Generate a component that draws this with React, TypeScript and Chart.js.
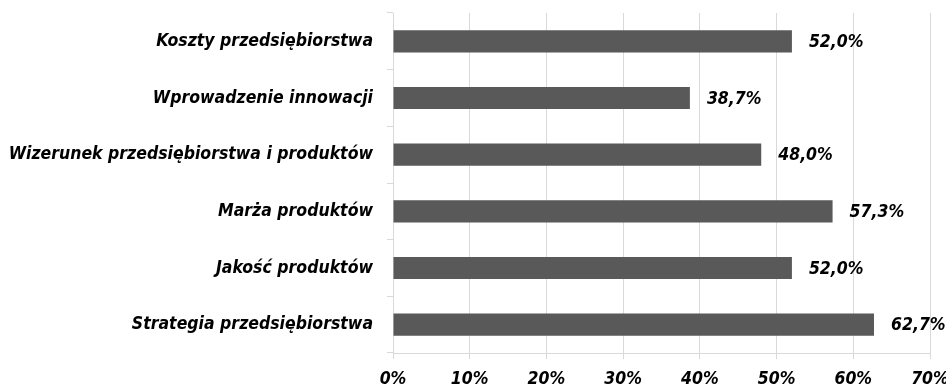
import React, { useEffect, useRef } from "react";
import { Chart, registerables } from "chart.js";

Chart.register(...registerables);

const categories = [
  "Koszty przedsiębiorstwa",
  "Wprowadzenie innowacji",
  "Wizerunek przedsiębiorstwa i produktów",
  "Marża produktów",
  "Jakość produktów",
  "Strategia przedsiębiorstwa",
];
const values = [52.0, 38.7, 48.0, 57.3, 52.0, 62.7];
const axisMax = 70;
const axisStep = 10;

const FONT_FAMILY = "'DejaVu Sans Condensed', 'DejaVu Sans', sans-serif";
const FONT_SIZE = 17.5;
const BAR_COLOR = "#595959";
const GRID_COLOR = "#d9d9d9";

const fmt = (v: number) => v.toFixed(1).replace(".", ",") + "%";

// Value labels to the right of each bar
const valueLabels = {
  id: "valueLabels",
  afterDatasetsDraw(chart: any) {
    const { ctx } = chart;
    const meta = chart.getDatasetMeta(0);
    ctx.save();
    ctx.font = `italic bold ${FONT_SIZE}px ${FONT_FAMILY}`;
    ctx.fillStyle = "#000";
    ctx.textAlign = "left";
    ctx.textBaseline = "middle";
    meta.data.forEach((bar: any, i: number) => {
      ctx.fillText(fmt(values[i]), bar.x + 17, bar.y + 1);
    });
    ctx.restore();
  },
};

export default function App() {
  const ref = useRef<HTMLCanvasElement>(null);

  useEffect(() => {
    if (!ref.current) return;
    const chart = new Chart(ref.current, {
      type: "bar",
      data: {
        labels: categories,
        datasets: [
          {
            data: values,
            backgroundColor: BAR_COLOR,
            borderWidth: 0,
            barPercentage: 0.39,
            categoryPercentage: 1,
          },
        ],
      },
      options: {
        indexAxis: "y",
        animation: false,
        responsive: false,
        maintainAspectRatio: false,
        layout: { padding: { top: 13, right: 16, left: 0, bottom: 0 } },
        plugins: {
          legend: { display: false },
          tooltip: { enabled: false },
        },
        scales: {
          x: {
            min: 0,
            max: axisMax,
            ticks: {
              stepSize: axisStep,
              padding: 10,
              color: "#000",
              font: { family: FONT_FAMILY, size: FONT_SIZE, style: "italic", weight: "bold" },
              callback: (v: any) => v + "%",
            },
            grid: { color: GRID_COLOR, lineWidth: 1, tickLength: 6 },
            border: { color: GRID_COLOR },
            afterFit: (s: any) => {
              s.height = 36;
              s.paddingLeft = 0;
              s.paddingRight = 0;
            },
          },
          y: {
            ticks: {
              padding: 14,
              color: "#000",
              font: { family: FONT_FAMILY, size: FONT_SIZE, style: "italic", weight: "bold" },
            },
            grid: { drawOnChartArea: false, offset: true, color: GRID_COLOR, tickLength: 6 },
            border: { color: GRID_COLOR },
            afterFit: (s: any) => {
              s.width = 393;
              s.paddingTop = 0;
              s.paddingBottom = 0;
            },
          },
        },
      },
      plugins: [valueLabels],
    });
    return () => chart.destroy();
  }, []);

  return (
    <div style={{ position: "fixed", left: 0, top: 0, width: 946, height: 389, background: "#fff" }}>
      <canvas ref={ref} width={946} height={389} />
    </div>
  );
}
